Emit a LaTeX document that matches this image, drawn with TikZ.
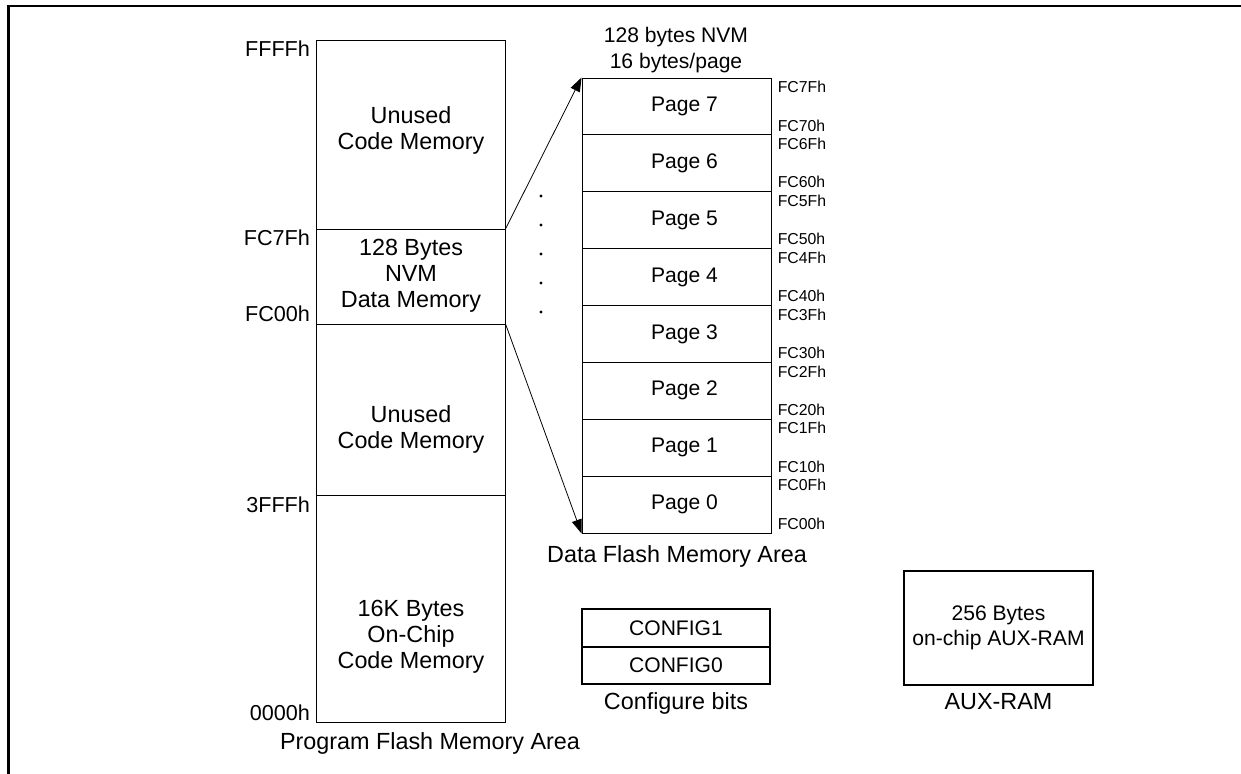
\documentclass[tikz,border=0pt]{standalone}
\usepackage{fontspec}
\setmainfont{Liberation Sans}
\usetikzlibrary{arrows.meta}
\tikzset{
  region/.style={draw, line width=0.55pt, minimum width=3.77cm, inner sep=0pt},
  pagebox/.style={draw, line width=0.55pt, minimum width=3.78cm, minimum height=1.1375cm, inner sep=0pt},
  cfgbox/.style={draw, line width=1pt, minimum width=3.76cm, minimum height=0.75cm, inner sep=0pt, font=\fontsize{12}{14}\selectfont},
  bigtxt/.style={align=center, inner sep=0pt, font=\fontsize{13.3}{14.8}\selectfont},
  smalltxt/.style={align=center, inner sep=0pt, font=\fontsize{12}{14.3}\selectfont},
  addr/.style={inner sep=0pt, font=\fontsize{12.3}{14}\selectfont},
  pgaddr/.style={inner sep=0pt, anchor=west, font=\fontsize{9}{10}\selectfont},
  tip/.style={-{Triangle[length=0.28cm, width=0.2cm]}, line width=0.45pt}
}
\begin{document}
\begin{tikzpicture}[x=0.02cm, y=-0.02cm]
  \useasboundingbox (0,0) rectangle (1241,774);
  \draw[line width=1.4pt] (8.5,780) -- (8.5,6) -- (1250,6);

  \node[region, minimum height=3.78cm] (hi) at (411,134.5) {};
  \node[region, minimum height=1.9cm] (nvm) at (411,276.5) {};
  \node[region, minimum height=3.42cm] (lo) at (411,409.5) {};
  \node[region, minimum height=4.54cm] (code) at (411,608.5) {};
  \node[bigtxt] (hitxt) at (411,130) {Unused\\Code Memory};
  \node[bigtxt] (nvmtxt) at (411,276) {128 Bytes\\NVM\\Data Memory};
  \node[bigtxt] (lotxt) at (411,429) {Unused\\Code Memory};
  \node[bigtxt] (codetxt) at (411,637) {16K Bytes\\On-Chip\\Code Memory};
  \node[addr, anchor=east] (aFFFF) at ([shift={(-6,9)}]hi.north west) {FFFFh};
  \node[addr, anchor=east] (aFC7F) at ([shift={(-6,9)}]nvm.north west) {FC7Fh};
  \node[addr, anchor=east] (aFC00) at ([shift={(-6,-11)}]nvm.south west) {FC00h};
  \node[addr, anchor=east] (a3FFF) at ([shift={(-6,10)}]code.north west) {3FFFh};
  \node[addr, anchor=east] (a0000) at ([shift={(-6,-10)}]code.south west) {0000h};
  \node[bigtxt] (progcap) at (430,743) {Program Flash Memory Area};

  \node[smalltxt] (nvmtitle) at (676,50) {128 bytes NVM\\16 bytes/page};
  \foreach \i in {0,...,7} {
    \node[pagebox, label={[smalltxt, xshift=0.16cm]center:Page \i}] (p\i) at (676.5,{533-56.875*(\i+0.5)}) {};
    \node[pgaddr] (top\i) at ([shift={(6,9.5)}]p\i.north east) {FC\i Fh};
    \node[pgaddr] (bot\i) at ([shift={(6,-10)}]p\i.south east) {FC\i 0h};
  }
  \node[bigtxt] (datacap) at (677,556) {Data Flash Memory Area};
  \foreach \y in {196,225,254,283,312}
    \fill (541,\y) circle (0.9pt);

  \begin{scope}[tip]
    \draw (nvm.north east) -- (p7.north west);
    \draw (nvm.south east) -- (p0.south west);
  \end{scope}

  \node[cfgbox] (cfg1) at (676,628) {CONFIG1};
  \node[cfgbox] (cfg0) at (676,665.5) {CONFIG0};
  \node[bigtxt] (cfgcap) at (676,703) {Configure bits};

  \node[draw, line width=1pt, minimum width=3.78cm, minimum height=2.28cm, inner sep=0pt] (aux) at (998.5,628) {};
  \node[smalltxt] (auxtxt) at (998.5,627.5) {256 Bytes\\on-chip AUX-RAM};
  \node[bigtxt] (auxcap) at (998.5,702) {AUX-RAM};
\end{tikzpicture}
\end{document}
